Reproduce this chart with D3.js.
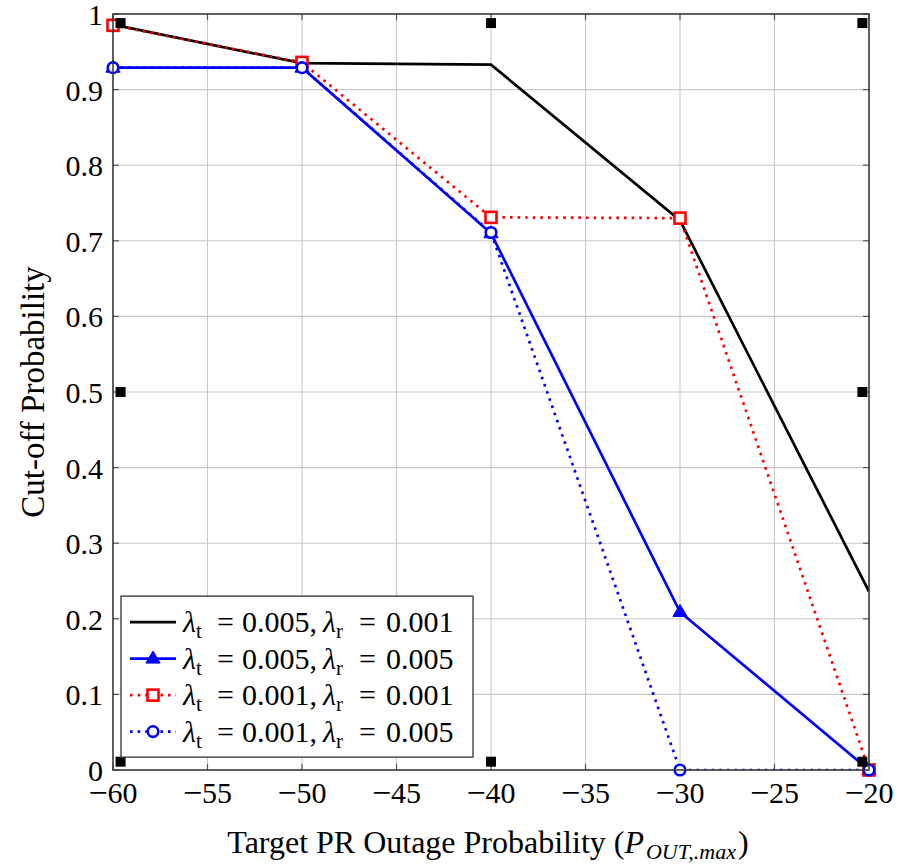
<!DOCTYPE html>
<html>
<head>
<meta charset="utf-8">
<script src="https://cdn.jsdelivr.net/npm/d3@7"></script>
<style>
  body { margin: 0; background: #fff; }
  text { font-family: "Liberation Serif", "Times New Roman", serif; fill: #000; }
</style>
</head>
<body>
<div id="chart"></div>
<script>
// data
const xValues = [-60, -50, -40, -30, -20];
const blackSolid = [0.986, 0.935, 0.933, 0.727, 0.236];
const blueTri = [0.929, 0.929, 0.710, 0.209, 0.0];
const redSquare = [0.985, 0.936, 0.731, 0.730, 0.0];
const blueCircle = [0.929, 0.929, 0.711, 0.0, 0.0];
// extra black square markers scattered on the plot
const extraX = [-59.6, -40, -20.35, -59.6, -20.35, -59.6, -40, -20.35];
const extraY = [0.988, 0.988, 0.988, 0.5, 0.5, 0.011, 0.011, 0.011];

const xTicks = [-60, -55, -50, -45, -40, -35, -30, -25, -20];
const yTicks = [0, 0.1, 0.2, 0.3, 0.4, 0.5, 0.6, 0.7, 0.8, 0.9, 1];

const legendLabels = [
  ["0.005", "0.001"],
  ["0.005", "0.005"],
  ["0.001", "0.001"],
  ["0.001", "0.005"]
];

const W = 901, H = 865;
const margin = {top: 14, right: 32, bottom: 95, left: 113};
const width = W - margin.left - margin.right,
      height = H - margin.top - margin.bottom;

const svg = d3.select('#chart').append('svg')
    .attr('width', W).attr('height', H);
const g = svg.append('g')
    .attr('transform', 'translate(' + margin.left + ',' + margin.top + ')');

const xScale = d3.scaleLinear().domain([-60, -20]).range([0, width]);
const yScale = d3.scaleLinear().domain([0, 1]).range([height, 0]);

// grid
g.append('g').selectAll('line').data(xTicks).join('line')
    .attr('x1', d => xScale(d)).attr('x2', d => xScale(d))
    .attr('y1', 0).attr('y2', height)
    .attr('stroke', '#c8c8c8').attr('stroke-width', 1.1);
g.append('g').selectAll('line').data(yTicks).join('line')
    .attr('y1', d => yScale(d)).attr('y2', d => yScale(d))
    .attr('x1', 0).attr('x2', width)
    .attr('stroke', '#c8c8c8').attr('stroke-width', 1.1);

// ticks inside, on all four sides
const tk = 6;
const tickG = g.append('g').attr('stroke', '#555').attr('stroke-width', 1.2);
xTicks.forEach(d => {
  tickG.append('line').attr('x1', xScale(d)).attr('x2', xScale(d)).attr('y1', height).attr('y2', height - tk);
  tickG.append('line').attr('x1', xScale(d)).attr('x2', xScale(d)).attr('y1', 0).attr('y2', tk);
});
yTicks.forEach(d => {
  tickG.append('line').attr('y1', yScale(d)).attr('y2', yScale(d)).attr('x1', 0).attr('x2', tk);
  tickG.append('line').attr('y1', yScale(d)).attr('y2', yScale(d)).attr('x1', width).attr('x2', width - tk);
});

// tick labels
const xl = g.append('g').selectAll('text').data(xTicks).join('text')
    .attr('x', d => xScale(d)).attr('y', height + 33)
    .attr('text-anchor', 'middle').attr('font-size', 30);
xl.append('tspan').attr('font-size', 34).attr('dy', 1).text('\u2212');
xl.append('tspan').attr('dy', -1).text(d => Math.abs(d));

g.append('g').selectAll('text').data(yTicks).join('text')
    .attr('x', -10).attr('y', d => yScale(d) + 11)
    .attr('text-anchor', 'end').attr('font-size', 30)
    .text(d => d === 0 ? '0' : d === 1 ? '1' : d3.format('.1f')(d));

// lines
const defs = svg.append('defs');
defs.append('clipPath').attr('id', 'clip').append('rect')
    .attr('width', width).attr('height', height);

const line = d3.line()
    .x((d, i) => xScale(xValues[i]))
    .y(d => yScale(d));

const series = [
  {data: blackSolid, color: '#000', dash: null, marker: null},
  {data: blueTri, color: '#0000ff', dash: null, marker: 'tri'},
  {data: redSquare, color: '#ff0000', dash: '2.6,5', marker: 'sq'},
  {data: blueCircle, color: '#0000ff', dash: '2.6,5', marker: 'circ'}
];

function drawMarker(sel, type, color, x, y) {
  if (type === 'tri') {
    const s = 7.5;
    sel.append('path')
      .attr('d', 'M' + x + ',' + (y - s) + 'L' + (x + s * 0.95) + ',' + (y + s * 0.6) + 'L' + (x - s * 0.95) + ',' + (y + s * 0.6) + 'Z')
      .attr('fill', color).attr('stroke', color).attr('stroke-width', 1);
  } else if (type === 'sq') {
    sel.append('rect').attr('x', x - 5.5).attr('y', y - 5.5).attr('width', 11).attr('height', 11)
      .attr('fill', '#fff').attr('stroke', color).attr('stroke-width', 2.6);
  } else if (type === 'circ') {
    sel.append('circle').attr('cx', x).attr('cy', y).attr('r', 5.3)
      .attr('fill', '#fff').attr('stroke', color).attr('stroke-width', 2.6);
  }
}

series.forEach(s => {
  g.append('path').datum(s.data)
    .attr('clip-path', 'url(#clip)')
    .attr('fill', 'none').attr('stroke', s.color)
    .attr('stroke-width', 2.7)
    .attr('stroke-dasharray', s.dash)
    .attr('d', line);
  if (s.marker) {
    const mg = g.append('g');
    s.data.forEach((v, i) => drawMarker(mg, s.marker, s.color, xScale(xValues[i]), yScale(v)));
  }
});

// extra black squares
g.append('g').selectAll('rect').data(extraX).join('rect')
    .attr('x', d => xScale(d) - 5)
    .attr('y', (d, i) => yScale(extraY[i]) - 5)
    .attr('width', 10).attr('height', 10)
    .attr('fill', '#000');

// frame
g.append('rect').attr('width', width).attr('height', height)
    .attr('fill', 'none').attr('stroke', '#333').attr('stroke-width', 1.5);

// legend
const lg = g.append('g').attr('transform', 'translate(8,' + (yScale(0.23)) + ')');
lg.append('rect').attr('x', 0).attr('y', 0).attr('width', 352).attr('height', 161)
    .attr('fill', '#fff').attr('stroke', '#333').attr('stroke-width', 1.3);
// x offsets of the pieces of each legend entry
const pieceX = [62, 96, 121, 202, 238, 265];
legendLabels.forEach((lab, i) => {
  const y = 26 + i * 36.5;
  const s = series[i];
  lg.append('line').attr('x1', 9).attr('x2', 55).attr('y1', y).attr('y2', y)
    .attr('stroke', s.color).attr('stroke-width', 2.7)
    .attr('stroke-dasharray', s.dash);
  if (s.marker) drawMarker(lg, s.marker, s.color, 32, y);
  const t = lg.append('text').attr('y', y + 10).attr('font-size', 30);
  t.append('tspan').attr('x', pieceX[0]).attr('font-style', 'italic').text('\u03bb');
  t.append('tspan').attr('font-size', 21).attr('dy', 6).text('t');
  t.append('tspan').attr('x', pieceX[1]).attr('dy', -6).text('=');
  t.append('tspan').attr('x', pieceX[2]).text(lab[0] + ',');
  t.append('tspan').attr('x', pieceX[3]).attr('font-style', 'italic').text('\u03bb');
  t.append('tspan').attr('font-size', 21).attr('dy', 6).text('r');
  t.append('tspan').attr('x', pieceX[4]).attr('dy', -6).text('=');
  t.append('tspan').attr('x', pieceX[5]).text(lab[1]);
});

// axis titles
const xt = svg.append('text')
    .attr('x', margin.left + width / 2 - 3).attr('y', 853)
    .attr('text-anchor', 'middle').attr('font-size', 32);
xt.append('tspan').text('Target PR Outage Probability (');
xt.append('tspan').attr('font-style', 'italic').text('P');
xt.append('tspan').attr('font-style', 'italic').attr('font-size', 22).attr('dy', 6).attr('dx', 2).text('OUT,.max');
xt.append('tspan').attr('dy', -6).attr('dx', 2).text(')');

svg.append('text')
    .attr('transform', 'translate(44,392) rotate(-90)')
    .attr('text-anchor', 'middle').attr('font-size', 33)
    .text('Cut-off Probability');
</script>
</body>
</html>
